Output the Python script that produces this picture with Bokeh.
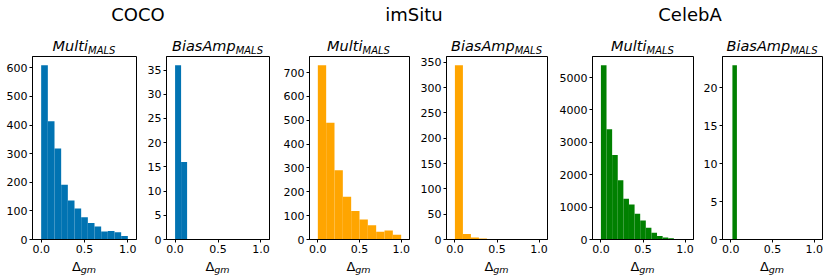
import numpy as np
from bokeh.plotting import figure
from bokeh.layouts import row, column
from bokeh.models import FixedTicker, Range1d, NumeralTickFormatter, Div
from bokeh.embed import file_html
from bokeh.resources import INLINE

# ---------------- data ----------------
datasets = ["COCO", "imSitu", "CelebA"]
colors = ["#0173B2", "#FFA500", "#008000"]
x_ticks = [0.0, 0.5, 1.0]

coco_multi_counts = [609, 413, 318, 191, 136, 108, 78, 58, 45, 28, 30, 25, 12]
coco_multi_edges = np.linspace(0.0, 1.0, 14)
coco_bias_counts = [36, 16]
coco_bias_edges = [0.0, 0.07, 0.14]

imsitu_multi_counts = [731, 490, 290, 179, 120, 84, 60, 32, 38, 20]
imsitu_multi_edges = np.linspace(0.0, 1.0, 11)
imsitu_bias_counts = [344, 11, 4, 2]
imsitu_bias_edges = [0.0, 0.095, 0.19, 0.285, 0.38]

celeba_multi_counts = [5380, 3400, 2610, 1830, 1255, 1080, 795, 585, 360, 205, 105, 60, 38, 18, 10]
celeba_multi_edges = np.linspace(0.0, 1.0, 16)
celeba_bias_counts = [23]
celeba_bias_edges = [0.019, 0.073]

coco_multi_yticks = [0, 100, 200, 300, 400, 500, 600]
coco_bias_yticks = [0, 5, 10, 15, 20, 25, 30, 35]
imsitu_multi_yticks = [0, 100, 200, 300, 400, 500, 600, 700]
imsitu_bias_yticks = [0, 50, 100, 150, 200, 250, 300, 350]
celeba_multi_yticks = [0, 1000, 2000, 3000, 4000, 5000]
celeba_bias_yticks = [0, 5, 10, 15, 20]

panels = [
    ("Multi", coco_multi_counts, coco_multi_edges, coco_multi_yticks, 0),
    ("BiasAmp", coco_bias_counts, coco_bias_edges, coco_bias_yticks, 0),
    ("Multi", imsitu_multi_counts, imsitu_multi_edges, imsitu_multi_yticks, 1),
    ("BiasAmp", imsitu_bias_counts, imsitu_bias_edges, imsitu_bias_yticks, 1),
    ("Multi", celeba_multi_counts, celeba_multi_edges, celeba_multi_yticks, 2),
    ("BiasAmp", celeba_bias_counts, celeba_bias_edges, celeba_bias_yticks, 2),
]

# ---------------- layout ----------------
FONT = "DejaVu Sans"
W = 830
TOP_H = 54          # header strip (group + panel titles)
FIG_H = 206         # figure strip
BOT_H = 15          # x-label strip
B_TOP = 2
B_BOT = 21
widths = [140, 140, 136, 139, 145, 130]
lefts = [32, 26, 28, 30, 37, 22]
rights = [4, 11, 7, 8, 7, 8]
group_centers = [138, 414, 690]

figs = []
frame_centers = []
x0 = 0
for i, (name, counts, edges, yticks, g) in enumerate(panels):
    edges = np.asarray(edges, dtype=float)
    ymax = max(counts) * 1.05
    p = figure(width=widths[i], height=FIG_H, x_range=Range1d(-0.1, 1.1),
               y_range=Range1d(0, ymax), output_backend="svg",
               toolbar_location=None, min_border_left=lefts[i],
               min_border_right=rights[i], min_border_top=B_TOP,
               min_border_bottom=B_BOT)
    p.quad(left=edges[:-1], right=edges[1:], top=counts, bottom=0,
           fill_color=colors[g], line_color=None)
    p.grid.visible = False
    p.outline_line_color = "black"
    p.outline_line_alpha = 1.0
    p.outline_line_width = 1
    p.xaxis.ticker = FixedTicker(ticks=x_ticks)
    p.xaxis.formatter = NumeralTickFormatter(format="0.0")
    p.yaxis.ticker = FixedTicker(ticks=yticks)
    for ax in (p.xaxis, p.yaxis):
        ax.minor_tick_line_color = None
        ax.major_tick_in = 0
        ax.major_tick_out = 3
        ax.major_tick_line_color = "black"
        ax.axis_line_color = "black"
        ax.major_label_text_font = FONT
        ax.major_label_text_font_size = "11px"
        ax.major_label_text_color = "black"
    p.xaxis.major_label_standoff = 2
    p.yaxis.major_label_standoff = 2
    figs.append(p)
    fl = x0 + lefts[i]
    fr = x0 + widths[i] - rights[i]
    frame_centers.append((fl + fr) / 2.0)
    x0 += widths[i]

# header: group titles and panel titles (HTML text with subscripts)
parts = []
for g, c in enumerate(group_centers):
    parts.append(
        f'<div style="position:absolute;left:{c-100}px;top:6px;width:200px;'
        f'text-align:center;font-family:\'{FONT}\';font-size:18px;'
        f'line-height:18px;color:black;white-space:nowrap">{datasets[g]}</div>')
for i, (name, *_rest) in enumerate(panels):
    c = frame_centers[i]
    parts.append(
        f'<div style="position:absolute;left:{c-80}px;top:39px;width:160px;'
        f'text-align:center;font-family:\'{FONT}\';font-size:14.5px;'
        f'line-height:14.5px;font-style:italic;color:black;white-space:nowrap">'
        f'{name}<span style="font-size:10px;line-height:0;position:relative;'
        f'top:3px">MALS</span></div>')
header = Div(text=f'<div style="position:relative;width:{W}px;height:{TOP_H}px">'
                  + "".join(parts) + '</div>',
             width=W, height=TOP_H, margin=0)

# footer: x-axis labels
parts = []
for i in range(len(panels)):
    c = frame_centers[i]
    parts.append(
        f'<div style="position:absolute;left:{c-40}px;top:0px;width:80px;'
        f'text-align:center;font-family:\'{FONT}\';font-size:13px;'
        f'line-height:13px;color:black;white-space:nowrap">&Delta;'
        f'<span style="font-size:9.5px;line-height:0;font-style:italic;'
        f'position:relative;top:2px">gm</span></div>')
footer = Div(text=f'<div style="position:relative;width:{W}px;height:{BOT_H}px">'
                  + "".join(parts) + '</div>',
             width=W, height=BOT_H, margin=0)

layout = column(header, row(*figs, spacing=0), footer, spacing=0)
open("out.html", "w").write(file_html(layout, INLINE))
